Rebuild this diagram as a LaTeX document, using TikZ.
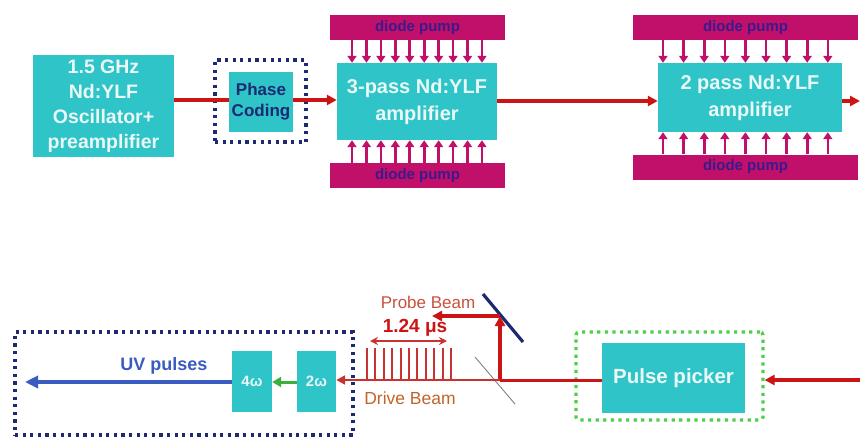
\documentclass[tikz,border=0pt]{standalone}
\usepackage{fontspec}
\setmainfont{Liberation Sans}
\usetikzlibrary{arrows.meta}

\definecolor{boxcyan}{HTML}{2EC4C8}
\definecolor{pumpmag}{HTML}{C0106A}
\definecolor{pumptext}{HTML}{3A1A8C}
\definecolor{beamred}{HTML}{CC1414}
\definecolor{pulsered}{HTML}{C83232}
\definecolor{navy}{HTML}{1C2A72}
\definecolor{uvblue}{HTML}{3A5BC0}
\definecolor{dotgreen}{HTML}{4CD04C}
\definecolor{shgreen}{HTML}{3CB03C}
\definecolor{probecol}{HTML}{C8503C}
\definecolor{drivecol}{HTML}{C0642A}
\definecolor{boxtext}{HTML}{EAF8F8}

\tikzset{
  unit/.style={fill=boxcyan, draw=none, inner sep=0pt, text=boxtext,
    align=center, font=\fontsize{20}{27}\selectfont\bfseries},
  pumpbar/.style={fill=pumpmag, draw=none, inner sep=0pt, text=pumptext,
    minimum height=25pt, font=\fontsize{15}{18}\selectfont\bfseries},
  pumparrow/.style={pumpmag, line width=2.6pt, -{Triangle[length=7pt,width=9pt]}},
  beam/.style={beamred, line width=3.2pt, -{Triangle[length=10pt,width=10pt]}},
  dotframe/.style={line width=3.2pt, dash pattern=on 3.2pt off 4.4pt, fill=none, inner sep=0pt},
}

\begin{document}
\begin{tikzpicture}[x=1pt,y=-1pt]
\useasboundingbox (0,0) rectangle (860,437);

% ---------- upper chain: oscillator and amplifiers ----------
\node[unit, minimum width=141pt, minimum height=102pt,
  font=\fontsize{19.5}{25}\selectfont\bfseries] (osc) at (103.5,106)
  {1.5 GHz\\Nd:YLF\\Oscillator+\\preamplifier};

\node[dotframe, draw=navy, minimum width=91pt, minimum height=82pt] (phasebox) at (260.5,101) {};

\node[unit, minimum width=160pt, minimum height=77pt] (amp1) at (417,101.5)
  {3-pass Nd:YLF\\amplifier};
\node[pumpbar, minimum width=175pt] (pump1t) at (417.5,27.5) {diode pump};
\node[pumpbar, minimum width=175pt] (pump1b) at (417.5,175.5) {diode pump};

\node[unit, minimum width=184pt, minimum height=69pt] (amp2) at (750,97.5)
  {2 pass Nd:YLF\\amplifier};
\node[pumpbar, minimum width=225pt] (pump2t) at (745.5,27.5) {diode pump};
\node[pumpbar, minimum width=225pt] (pump2b) at (745.5,167) {diode pump};

\coordinate (topout) at (860,101);

\draw[beam] (osc.east |- 0,100) -- (amp1.west |- 0,100);
\node[unit, minimum width=64pt, minimum height=60pt, text=navy,
  font=\fontsize{17}{21}\selectfont\bfseries] (phase) at (261,102) {Phase\\Coding};
\draw[beam] (amp1.east |- 0,101) -- (amp2.west |- 0,101);
\draw[beam] (amp2.east |- 0,101) -- (topout);

% pump light onto the amplifier heads
\foreach \i in {0,...,9} {
  \pgfmathsetmacro{\px}{352+\i*14.44}
  \draw[pumparrow] (pump1t.south -| \px,0) -- (amp1.north -| \px,0);
  \draw[pumparrow] (pump1b.north -| \px,0) -- (amp1.south -| \px,0);
}
\foreach \i in {0,...,8} {
  \pgfmathsetmacro{\px}{663+\i*20.6}
  \draw[pumparrow] (pump2t.south -| \px,0) -- (amp2.north -| \px,0);
  \draw[pumparrow] (pump2b.north -| \px,0) -- (amp2.south -| \px,0);
}

% ---------- lower chain: pulse picking, beam split, conversion ----------
\coordinate (botin) at (860,380);
\node[dotframe, draw=dotgreen, rounded corners=3pt, minimum width=187pt, minimum height=88pt] (pickbox) at (669.5,376) {};
\node[unit, minimum width=143pt, minimum height=70pt, font=\fontsize{20.5}{24}\selectfont\bfseries] (picker) at (673.5,378) {Pulse picker};

\node[dotframe, draw=navy, minimum width=338pt, minimum height=103pt] (uvbox) at (184,383.5) {};
\node[unit, minimum width=40pt, minimum height=61pt, font=\fontsize{15}{18}\selectfont\bfseries] (w4) at (252,381.5) {4ω};
\node[unit, minimum width=39pt, minimum height=61pt, font=\fontsize{15}{18}\selectfont\bfseries] (w2) at (316.5,381.5) {2ω};

\coordinate (split) at (500,380);
\coordinate (mirror) at (500,316);
\coordinate (probeend) at (432,316);
\coordinate (uvend) at (25,382);

% beam splitter and mirror
\draw[gray, line width=0.9pt] (475,357) -- (515,404);
\draw[navy, line width=3.2pt] (483,294) -- (523,342);

\draw[beam] (botin) -- (pickbox.east |- botin);
\draw[beamred, line width=3pt] (picker.west |- split) -- (split);
\draw[beam] (split) -- (mirror);
\draw[beam] (mirror) -- (probeend);
\draw[pulsered, line width=2.2pt, -{Triangle[length=9pt,width=9pt]}] (split) -- (w2.east |- split);

% drive beam pulse train
\foreach \i in {0,...,10} {
  \pgfmathsetmacro{\qx}{367+\i*8.4}
  \draw[pulsered, line width=2pt] (\qx,348) -- (\qx,380);
}
\coordinate (trainl) at (370,341);
\coordinate (trainr) at (447,341);
\draw[pulsered, line width=2pt, {Stealth[length=8pt,width=8pt]}-{Stealth[length=8pt,width=8pt]}] (trainl) -- (trainr);

\node[text=probecol, font=\fontsize{17}{19}\selectfont] (probelbl) at (428,302) {Probe Beam};
\node[text=beamred, font=\fontsize{19}{21}\selectfont\bfseries] (timelbl) at (415,328) {1.24 μs};
\node[text=drivecol, font=\fontsize{17.5}{19}\selectfont] (drivelbl) at (410,398) {Drive Beam};

\draw[shgreen, line width=3pt, -{Triangle[length=9pt,width=10pt]}] (w2.west |- uvend) -- (w4.east |- uvend);
\draw[uvblue, line width=3.4pt, -{Triangle[length=13pt,width=12pt]}] (w4.west |- uvend) -- (uvend);
\node[text=uvblue, font=\fontsize{18}{20}\selectfont\bfseries] (uvlbl) at (164,366) {UV pulses};
\end{tikzpicture}
\end{document}
